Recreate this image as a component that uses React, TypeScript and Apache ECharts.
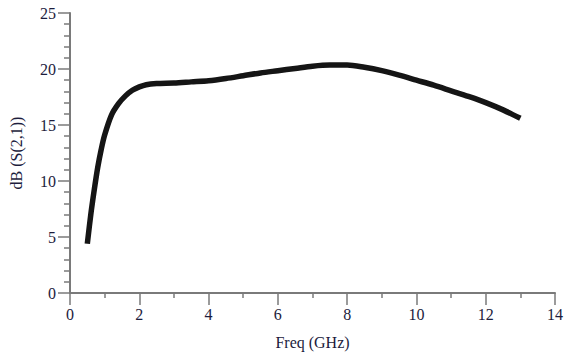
import React, { useEffect, useRef } from "react";
import * as echarts from "echarts";

const freqGHz = [0.5, 0.6, 0.7, 0.8, 0.9, 1.0, 1.2, 1.4, 1.6, 1.8, 2.0, 2.2, 2.5, 3.0, 3.5, 4.0, 4.5, 5.0, 5.5, 6.0, 6.5, 7.0, 7.5, 8.0, 8.5, 9.0, 9.5, 10.0, 10.5, 11.0, 11.5, 12.0, 12.5, 13.0];
const s21dB = [4.4, 7.0, 9.2, 11.2, 12.8, 14.1, 15.9, 16.9, 17.6, 18.1, 18.4, 18.6, 18.7, 18.75, 18.85, 18.95, 19.15, 19.4, 19.65, 19.85, 20.05, 20.25, 20.35, 20.35, 20.15, 19.85, 19.45, 19.0, 18.55, 18.05, 17.55, 17.0, 16.35, 15.6];

const xTitle = "Freq (GHz)";
const yTitle = "dB (S(2,1))";

export default function App() {
  const ref = useRef<HTMLDivElement>(null);
  useEffect(() => {
    if (!ref.current) return;
    const chart = echarts.init(ref.current, null, { renderer: "svg" });
    const font = "'Liberation Serif', 'Times New Roman', serif";
    const labelColor = "#1c1c3c";
    const axisColor = "#7a7a7a";
    chart.setOption({
      animation: false,
      backgroundColor: "#ffffff",
      grid: { left: 68, right: 9, top: 13, bottom: 63, containLabel: false },
      xAxis: {
        type: "value",
        min: 0,
        max: 14,
        interval: 2,
        name: xTitle,
        nameLocation: "middle",
        nameGap: 41,
        nameTextStyle: { fontFamily: font, fontSize: 16, color: labelColor },
        axisLine: { show: true, lineStyle: { color: axisColor, width: 2 } },
        axisTick: { show: true, length: 12, lineStyle: { color: axisColor, width: 1.5 } },
        minorTick: { show: true, splitNumber: 2, length: 5, lineStyle: { color: axisColor, width: 1.5 } },
        axisLabel: { fontFamily: font, fontSize: 16, color: labelColor, margin: 13 },
        splitLine: { show: false },
      },
      yAxis: {
        type: "value",
        min: 0,
        max: 25,
        interval: 5,
        name: yTitle,
        nameLocation: "middle",
        nameGap: 46,
        nameRotate: 90,
        nameTextStyle: { fontFamily: font, fontSize: 16, color: labelColor },
        axisLine: { show: true, lineStyle: { color: axisColor, width: 2 } },
        axisTick: { show: true, length: 12, lineStyle: { color: axisColor, width: 1.5 } },
        minorTick: { show: true, splitNumber: 5, length: 6, lineStyle: { color: axisColor, width: 1.5 } },
        axisLabel: { fontFamily: font, fontSize: 16, color: labelColor, margin: 14 },
        splitLine: { show: false },
      },
      series: [
        {
          type: "line",
          data: freqGHz.map((f, i) => [f, s21dB[i]]),
          smooth: 0.3,
          symbol: "none",
          lineStyle: { color: "#151515", width: 5.5 },
        },
      ],
    });
    return () => chart.dispose();
  }, []);
  return <div ref={ref} style={{ width: 566, height: 356, position: "absolute", left: 0, top: 0 }} />;
}
